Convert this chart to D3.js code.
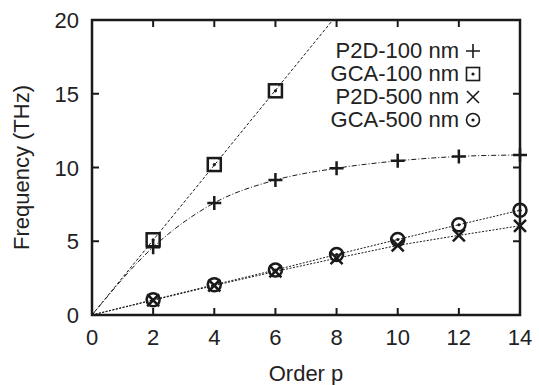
<!DOCTYPE html>
<html><head><meta charset="utf-8">
<script src="https://cdn.jsdelivr.net/npm/d3@7"></script>
<style>
body{margin:0;background:#fff;}
text{font-family:"Liberation Sans",Arial,sans-serif;fill:#222;}
</style></head><body>
<svg id="c" width="539" height="385"></svg>
<script>
const orders = [2,4,6,8,10,12,14];
const p2d100 = [4.6,7.6,9.15,9.95,10.45,10.75,10.85];
const gca100 = [5.1,10.2,15.2];
const p2d500 = [1.0,2.0,2.95,3.85,4.72,5.4,6.05];
const gca500 = [1.03,2.05,3.05,4.1,5.12,6.12,7.1];
const xTicks = [0,2,4,6,8,10,12,14];
const yTicks = [0,5,10,15,20];
const legendLabels = ["P2D-100 nm","GCA-100 nm","P2D-500 nm","GCA-500 nm"];

const svg = d3.select("#c");
const L=92,R=520,T=20,B=315;
const FS=22;
const x = d3.scaleLinear().domain([0,14]).range([L,R]);
const y = d3.scaleLinear().domain([0,20]).range([B,T]);

svg.append("defs").append("clipPath").attr("id","clip")
  .append("rect").attr("x",L).attr("y",T).attr("width",R-L).attr("height",B-T);

const col="#1a1a1a";
const tl=7;
xTicks.forEach(t=>{
  svg.append("line").attr("x1",x(t)).attr("x2",x(t)).attr("y1",B).attr("y2",B-tl).attr("stroke",col).attr("stroke-width",2);
  svg.append("line").attr("x1",x(t)).attr("x2",x(t)).attr("y1",T).attr("y2",T+tl).attr("stroke",col).attr("stroke-width",2);
  svg.append("text").attr("x",x(t)).attr("y",B+30).attr("text-anchor","middle").attr("font-size",FS).text(t);
});
yTicks.forEach(t=>{
  svg.append("line").attr("x1",L).attr("x2",L+tl).attr("y1",y(t)).attr("y2",y(t)).attr("stroke",col).attr("stroke-width",2);
  svg.append("line").attr("x1",R).attr("x2",R-tl).attr("y1",y(t)).attr("y2",y(t)).attr("stroke",col).attr("stroke-width",2);
  svg.append("text").attr("x",L-13).attr("y",y(t)+8).attr("text-anchor","end").attr("font-size",FS).text(t);
});

const g = svg.append("g").attr("clip-path","url(#clip)");
function pts(vals){ return [[0,0]].concat(vals.map((v,i)=>[orders[i],v])); }
const line = d3.line().x(d=>x(d[0])).y(d=>y(d[1]));
const sl = d3.sum(gca100.map((v,i)=>v*orders[i]))/d3.sum(gca100.map((v,i)=>orders[i]*orders[i]));
g.append("path").attr("d",line([[0,0],[14,14*sl]])).attr("fill","none").attr("stroke",col).attr("stroke-width",1).attr("stroke-dasharray","3,2");
g.append("path").attr("d",line.curve(d3.curveMonotoneX)(pts(p2d100))).attr("fill","none").attr("stroke",col).attr("stroke-width",1).attr("stroke-dasharray","5,2,1,2");
g.append("path").attr("d",line.curve(d3.curveLinear)(pts(p2d500))).attr("fill","none").attr("stroke",col).attr("stroke-width",1).attr("stroke-dasharray","2,1.5");
g.append("path").attr("d",line(pts(gca500))).attr("fill","none").attr("stroke",col).attr("stroke-width",1).attr("stroke-dasharray","2,1.5");

svg.append("rect").attr("x",L).attr("y",T).attr("width",R-L).attr("height",B-T).attr("fill","none").attr("stroke",col).attr("stroke-width",2.5);

function marker(sel,type,cx,cy,sw){
  const s=7;
  if(type==="plus"){
    sel.append("path").attr("d",`M${cx-s},${cy}H${cx+s}M${cx},${cy-s}V${cy+s}`).attr("stroke",col).attr("stroke-width",sw).attr("fill","none");
  } else if(type==="square"){
    sel.append("rect").attr("x",cx-s+0.5).attr("y",cy-s+0.5).attr("width",2*s-1).attr("height",2*s-1).attr("stroke",col).attr("stroke-width",sw).attr("fill","none");
    sel.append("circle").attr("cx",cx).attr("cy",cy).attr("r",1.6).attr("fill",col);
  } else if(type==="x"){
    const k=6;
    sel.append("path").attr("d",`M${cx-k},${cy-k}L${cx+k},${cy+k}M${cx-k},${cy+k}L${cx+k},${cy-k}`).attr("stroke",col).attr("stroke-width",sw).attr("fill","none");
  } else {
    sel.append("circle").attr("cx",cx).attr("cy",cy).attr("r",6.5).attr("stroke",col).attr("stroke-width",sw).attr("fill","none");
    sel.append("circle").attr("cx",cx).attr("cy",cy).attr("r",1.6).attr("fill",col);
  }
}
const mg = svg.append("g");
p2d100.forEach((v,i)=>marker(mg,"plus",x(orders[i]),y(v),2.5));
gca100.forEach((v,i)=>marker(mg,"square",x(orders[i]),y(v),2.5));
p2d500.forEach((v,i)=>marker(mg,"x",x(orders[i]),y(v),2.5));
gca500.forEach((v,i)=>marker(mg,"circle",x(orders[i]),y(v),2.5));

const types=["plus","square","x","circle"];
legendLabels.forEach((lab,i)=>{
  const ly=50+i*23;
  svg.append("text").attr("x",459).attr("y",ly+8).attr("text-anchor","end").attr("font-size",FS).text(lab);
  marker(svg,types[i],473,ly+1,1.6);
});

svg.append("text").attr("x",(L+R)/2).attr("y",381).attr("text-anchor","middle").attr("font-size",FS).text("Order p");
svg.append("text").attr("transform",`translate(29,${(T+B)/2}) rotate(-90)`).attr("text-anchor","middle").attr("font-size",FS).text("Frequency (THz)");
</script></body></html>
